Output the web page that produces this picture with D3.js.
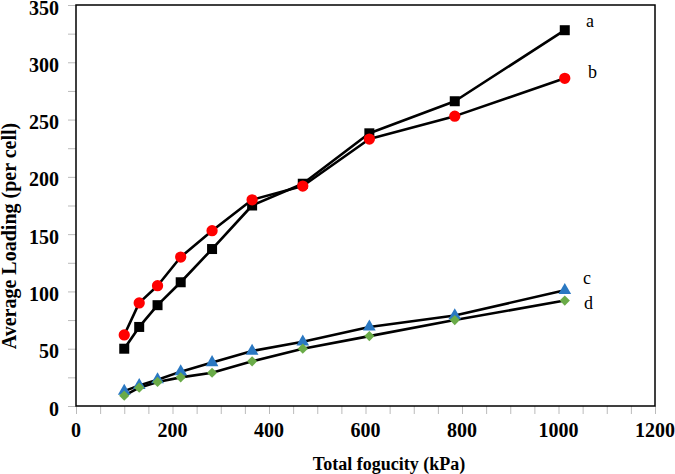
<!DOCTYPE html>
<html><head><meta charset="utf-8">
<script src="https://cdn.jsdelivr.net/npm/d3@7"></script>
<style>body{margin:0;background:#fff}svg{display:block}</style>
</head><body><svg id="c" width="675" height="474"></svg>
<script>
const fugacity = [100, 131, 169, 217, 282, 365, 470, 608, 785, 1013];
const seriesA = [50, 69, 88, 108, 137, 175, 194, 238, 266, 328];
const seriesB = [62, 90, 105, 130, 153, 180, 192, 233, 253, 286];
const seriesC = [13, 18, 23, 30, 38, 48, 56, 69, 79, 101];
const seriesD = [9, 16, 21, 25, 29, 39, 50, 61, 75, 92];
const seriesNames = ["a", "b", "c", "d"];
const xTickLabels = [0, 200, 400, 600, 800, 1000, 1200];
const yTickLabels = [0, 50, 100, 150, 200, 250, 300, 350];

const svg = d3.select("#c");
const L = 76, R = 655, T = 5, B = 406;
const x = d3.scaleLinear().domain([0, 1200]).range([L, R]);
const y = d3.scaleLinear().domain([0, 350]).range([B, T]);
const serif = "'Liberation Serif','Times New Roman',serif";

// minor ticks
const xAxis = d3.axisBottom(x).tickValues(d3.range(0, 1201, 50)).tickSize(8).tickFormat("");
const gx = svg.append("g").attr("transform", `translate(0,${B})`).call(xAxis);
gx.select(".domain").remove();
gx.selectAll(".tick line").attr("stroke", "#bbb").attr("stroke-width", 1);
const yAxis = d3.axisLeft(y).tickValues(d3.range(0, 351, 25)).tickSize(8).tickFormat("");
const gy = svg.append("g").attr("transform", `translate(${L},0)`).call(yAxis);
gy.select(".domain").remove();
gy.selectAll(".tick line").attr("stroke", "#bbb").attr("stroke-width", 1);

// tick labels
svg.append("g").selectAll("text").data(xTickLabels).join("text")
  .attr("x", d => x(d)).attr("y", 437).attr("text-anchor", "middle")
  .attr("font-family", serif).attr("font-weight", "bold").attr("font-size", 20)
  .text(d => d);
svg.append("g").selectAll("text").data(yTickLabels).join("text")
  .attr("x", 59).attr("y", d => y(d) + 9.5).attr("text-anchor", "end")
  .attr("font-family", serif).attr("font-weight", "bold").attr("font-size", 20)
  .text(d => d);

// frame
svg.append("rect").attr("x", L).attr("y", T).attr("width", R - L).attr("height", B - T)
  .attr("fill", "none").attr("stroke", "#000").attr("stroke-width", 1.5);

// titles
svg.append("text").attr("x", 389).attr("y", 470).attr("text-anchor", "middle")
  .attr("font-family", serif).attr("font-weight", "bold").attr("font-size", 18)
  .text("Total fogucity (kPa)");
svg.append("text").attr("transform", "translate(16,236) rotate(-90)").attr("text-anchor", "middle")
  .attr("font-family", serif).attr("font-weight", "bold").attr("font-size", 20)
  .text("Average Loading (per cell)");

const series = [
  {vals: seriesA, sym: d3.symbolSquare, size: 100, rot: 0, color: "#000000"},
  {vals: seriesB, sym: d3.symbolCircle, size: 100, rot: 0, color: "#ff0000"},
  {vals: seriesC, sym: d3.symbolTriangle, size: 70, rot: 0, color: "#2a78c2"},
  {vals: seriesD, sym: d3.symbolSquare, size: 52, rot: 45, color: "#6aab48"}
];
const line = d3.line().x((d, i) => x(fugacity[i])).y(d => y(d));
series.forEach(s => {
  svg.append("path").attr("d", line(s.vals)).attr("fill", "none")
    .attr("stroke", "#000").attr("stroke-width", 2.6).attr("stroke-linejoin", "round");
});
series.forEach(s => {
  svg.append("g").selectAll("path").data(s.vals).join("path")
    .attr("transform", (d, i) => `translate(${x(fugacity[i])},${y(d)}) rotate(${s.rot})`)
    .attr("d", d3.symbol().type(s.sym).size(s.size)).attr("fill", s.color);
});

// series labels
const labelPos = [[586, 27], [588, 78], [583, 284], [584, 309]];
svg.append("g").selectAll("text").data(seriesNames).join("text")
  .attr("x", (d, i) => labelPos[i][0]).attr("y", (d, i) => labelPos[i][1])
  .attr("font-family", serif).attr("font-size", 18).text(d => d);
</script></body></html>
